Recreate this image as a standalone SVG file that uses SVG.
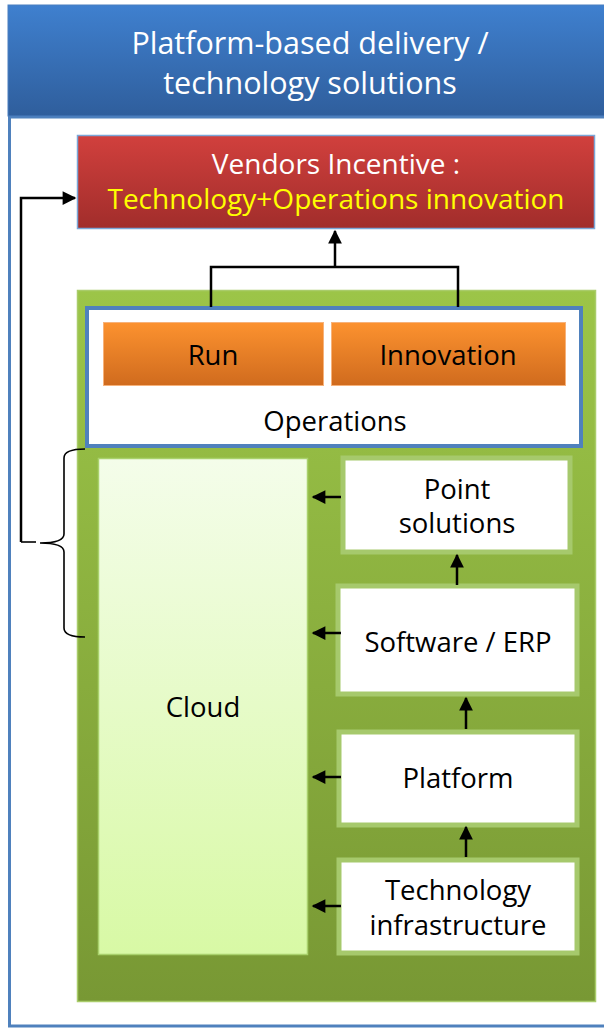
<svg xmlns="http://www.w3.org/2000/svg" width="604" height="1028" viewBox="0 0 604 1028">
<defs>
<linearGradient id="gHead" x1="0" y1="0" x2="0" y2="1"><stop offset="0" stop-color="#3f80cf"/><stop offset="1" stop-color="#2f5e9c"/></linearGradient>
<linearGradient id="gRed" x1="0" y1="0" x2="0" y2="1"><stop offset="0" stop-color="#d1403d"/><stop offset="1" stop-color="#a12d2b"/></linearGradient>
<linearGradient id="gGreen" x1="0" y1="0" x2="0" y2="1"><stop offset="0" stop-color="#9cc548"/><stop offset="1" stop-color="#789834"/></linearGradient>
<linearGradient id="gOrange" x1="0" y1="0" x2="0" y2="1"><stop offset="0" stop-color="#fc922f"/><stop offset="1" stop-color="#d06b1e"/></linearGradient>
<linearGradient id="gCloud" x1="0" y1="0" x2="0" y2="1"><stop offset="0" stop-color="#f4fdea"/><stop offset="1" stop-color="#d8f9a5"/></linearGradient>
<marker id="ah" viewBox="0 0 10 10" refX="9" refY="5" markerWidth="6" markerHeight="5.5" orient="auto" markerUnits="strokeWidth"><path d="M0,0 L10,5 L0,10 z" fill="#000"/></marker>
<style>
text{font-family:"Open Sans","Noto Sans","DejaVu Sans",sans-serif;font-size:27.5px;text-anchor:middle}
text.h{font-size:30.5px}
text.v{font-size:28px}
.w{fill:#fff}.k{fill:#000}.y{fill:#ffff00}
.box{fill:#fff;stroke:#a6c96c;stroke-width:5}
.con{stroke:#000;stroke-width:2.5;fill:none}
.thin{stroke:#000;stroke-width:1.6;fill:none}
</style>
</defs>
<g id="frame">
<rect x="9.5" y="117" width="620" height="909" fill="#fff" stroke="#4f81bd" stroke-width="3"/>
</g>
<g id="header">
<rect x="8" y="5" width="620" height="111" fill="url(#gHead)" stroke="#4a7fc0" stroke-width="1"/>
<text class="w h" x="310" y="54">Platform-based delivery /</text>
<text class="w h" x="310" y="94">technology solutions</text>
</g>
<g id="vendors">
<rect x="77.5" y="135.5" width="517" height="93" fill="url(#gRed)" stroke="#7ba7d8" stroke-width="1.5"/>
<text class="w v" x="336" y="174">Vendors Incentive :</text>
<text class="y v" x="336" y="209">Technology+Operations innovation</text>
</g>
<g id="platform-area">
<rect x="77.5" y="290.5" width="518" height="711" fill="url(#gGreen)" stroke="#a9cc6a" stroke-width="1.5"/>
</g>
<g id="operations">
<rect x="87" y="308" width="494" height="138" fill="#fff" stroke="#4f81bd" stroke-width="4"/>
<text class="k" x="335" y="431">Operations</text>
</g>
<g id="run">
<rect x="103.5" y="322.5" width="220" height="63" fill="url(#gOrange)" stroke="#f7b27a" stroke-width="1"/>
<text class="k" x="213" y="365">Run</text>
</g>
<g id="innovation">
<rect x="331.5" y="322.5" width="234" height="63" fill="url(#gOrange)" stroke="#f7b27a" stroke-width="1"/>
<text class="k" x="448" y="365">Innovation</text>
</g>
<g id="cloud">
<rect x="98.5" y="458.5" width="209" height="496" fill="url(#gCloud)" stroke="#a9d16c" stroke-width="1.5"/>
<text class="k" x="203" y="717">Cloud</text>
</g>
<g id="point-solutions">
<rect class="box" x="343" y="458" width="227" height="94"/>
<text class="k" x="457" y="499">Point</text>
<text class="k" x="457" y="533">solutions</text>
</g>
<g id="software-erp">
<rect class="box" x="338" y="586" width="239" height="108"/>
<text class="k" x="458" y="652">Software / ERP</text>
</g>
<g id="platform">
<rect class="box" x="339" y="732" width="238" height="93"/>
<text class="k" x="458" y="788">Platform</text>
</g>
<g id="tech-infra">
<rect class="box" x="339" y="860" width="238" height="93"/>
<text class="k" x="458" y="900">Technology</text>
<text class="k" x="458" y="935">infrastructure</text>
</g>
<g id="connectors">
<path class="con" d="M211,307 V267 H458 V307"/>
<path class="con" d="M335,267 V231" marker-end="url(#ah)"/>
<path class="con" d="M21,542 V198 H75" marker-end="url(#ah)"/>
<path class="thin" d="M21,542 H36"/>
<path class="thin" d="M85,449 Q64,449 64,458 V534 Q64,543 40,543 Q64,543 64,552 V628 Q64,637 85,637"/>
<path class="con" d="M341,497 H313" marker-end="url(#ah)"/>
<path class="con" d="M341,633 H313" marker-end="url(#ah)"/>
<path class="con" d="M341,777 H313" marker-end="url(#ah)"/>
<path class="con" d="M341,906 H313" marker-end="url(#ah)"/>
<path class="con" d="M457,585 V555" marker-end="url(#ah)"/>
<path class="con" d="M466,729 V698" marker-end="url(#ah)"/>
<path class="con" d="M466,857 V827" marker-end="url(#ah)"/>
</g>
</svg>
